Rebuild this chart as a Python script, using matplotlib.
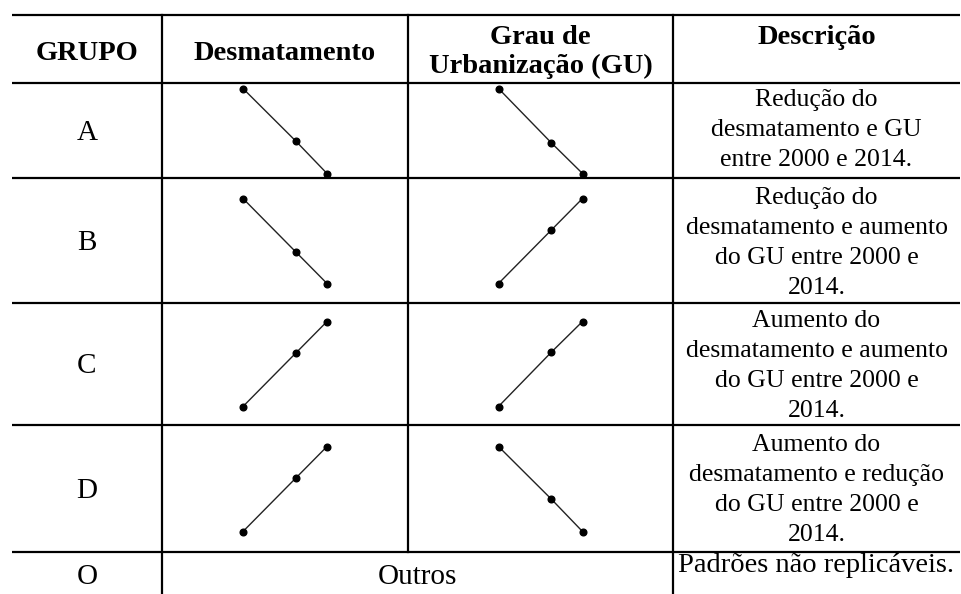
import matplotlib
matplotlib.use("Agg")
import matplotlib.pyplot as plt

plt.rcParams["font.family"] = ["Liberation Serif", "DejaVu Serif"]

# column headers and row content
headers = ["GRUPO", "Desmatamento", "Grau de\nUrbanização (GU)", "Descrição"]
groups = ["A", "B", "C", "D"]
descriptions = [
    "Redução do\ndesmatamento e GU\nentre 2000 e 2014.",
    "Redução do\ndesmatamento e aumento\ndo GU entre 2000 e\n2014.",
    "Aumento do\ndesmatamento e aumento\ndo GU entre 2000 e\n2014.",
    "Aumento do\ndesmatamento e redução\ndo GU entre 2000 e\n2014.",
]
other_group = "O"
other_label = "Outros"
other_desc = "Padrões não replicáveis."

# relative position of the three points in time (2000 ... 2014)
t_pts = [0.0, 0.63, 1.0]
# relative level of each indicator at those points, per group
desm_series = [
    [1.0, 0.38, 0.0],
    [1.0, 0.37, 0.0],
    [0.0, 0.63, 1.0],
    [0.0, 0.63, 1.0],
]
gu_series = [
    [1.0, 0.36, 0.0],
    [0.0, 0.63, 1.0],
    [0.0, 0.64, 1.0],
    [1.0, 0.38, 0.0],
]

W, H = 961, 594
fig = plt.figure(figsize=(W / 100, H / 100), dpi=100)
ax = fig.add_axes([0, 0, 1, 1])
ax.set_xlim(0, W)
ax.set_ylim(H, 0)
ax.axis("off")

# table grid (pixel layout)
col_x = [12, 162, 408, 673, 960]
row_y = [15, 83, 178, 303, 425, 552, 594]
lw = 1.6
for y in row_y[:-1]:
    ax.plot([col_x[0], col_x[-1]], [y, y], color="black", lw=lw, solid_capstyle="butt")
ax.plot([col_x[1], col_x[1]], [row_y[0], row_y[-1]], color="black", lw=lw)
ax.plot([col_x[2], col_x[2]], [row_y[0], row_y[-2]], color="black", lw=lw)
ax.plot([col_x[3], col_x[3]], [row_y[0], row_y[-1]], color="black", lw=lw)

fs_head = 20.5
fs_big = 21
fs_desc = 18.5
col_cx = [(col_x[i] + col_x[i + 1]) / 2 for i in range(4)]

# header
ax.text(col_cx[0], 53, headers[0], ha="center", va="center", fontsize=fs_head, fontweight="bold")
ax.text(col_cx[1], 53, headers[1], ha="center", va="center", fontsize=fs_head, fontweight="bold")
ax.text(col_cx[2], 52, headers[2], ha="center", va="center", fontsize=fs_head, fontweight="bold",
        linespacing=1.25)
ax.text(col_cx[3], 38, headers[3], ha="center", va="center", fontsize=fs_head, fontweight="bold")

# body rows
row_cy = [131, 241, 364, 489]
desc_cy = [130, 243, 366, 490]
for i, g in enumerate(groups):
    cy = row_cy[i]
    ax.text(col_cx[0], cy + 2, g, ha="center", va="center", fontsize=fs_big)
    ax.text(col_cx[3], desc_cy[i], descriptions[i], ha="center", va="center", fontsize=fs_desc,
            linespacing=1.46)
    for j, series in enumerate([desm_series[i], gu_series[i]]):
        cx = col_cx[j + 1]
        iw, ih = 84, 85
        sub = fig.add_axes([(cx - iw / 2) / W, 1 - (cy + ih / 2) / H, iw / W, ih / H])
        sub.set_xlim(0, 1)
        sub.set_ylim(0, 1)
        sub.axis("off")
        sub.plot(t_pts, series, color="#222222", lw=1.0, marker="o", markersize=4.8,
                 markerfacecolor="black", markeredgecolor="black", clip_on=False)

# last row
ax.text(col_cx[0], 577, other_group, ha="center", va="center", fontsize=fs_big)
ax.text((col_x[1] + col_x[3]) / 2, 577, other_label, ha="center", va="center", fontsize=fs_big)
ax.text(col_cx[3], 566, other_desc, ha="center", va="center", fontsize=fs_big - 0.5)

fig.savefig("out.png", dpi=100)
